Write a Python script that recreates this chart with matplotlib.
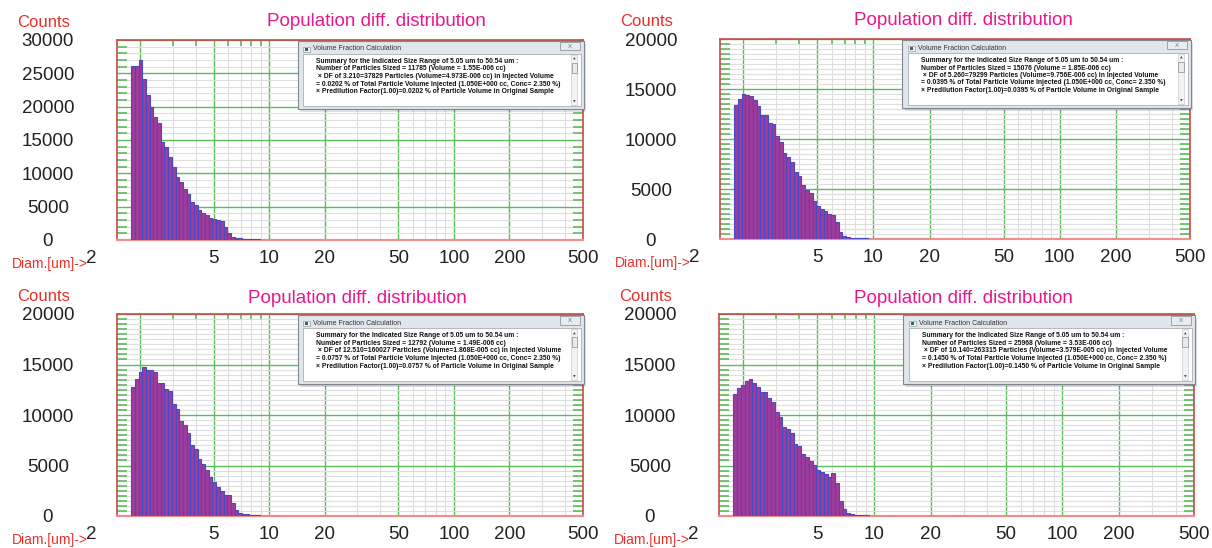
"""
Population diff. distribution, four particle sizer screenshots
"""
import numpy as np
import matplotlib
matplotlib.use("Agg")
from matplotlib import pyplot as plt
from matplotlib.patches import Rectangle
from matplotlib.ticker import FixedLocator, MultipleLocator, NullFormatter
from matplotlib.transforms import ScaledTranslation

plt.rcParams['font.family'] = ['Liberation Sans', 'DejaVu Sans']

# sizer channels: log spaced, 50 per decade, first channel edge in um
first_channel = 1.79
channels_per_decade = 50

counts_tl = [26100, 26100, 27000, 24100, 21750, 20000, 18500, 17500, 14750, 14000,
             12500, 11000, 9500, 8750, 7600, 6900, 5750, 5250, 4500, 4100,
             3750, 3250, 3100, 3000, 2900, 2000, 1000, 500, 350, 250,
             200, 160, 130, 110, 90, 70, 55, 45, 38, 32,
             27, 23, 20, 17, 15, 13, 11, 10, 9, 8, 7, 6]
counts_tr = [13430, 14000, 14500, 14400, 14270, 13900, 13270, 12430, 12400, 11600,
             11500, 10270, 9670, 8570, 8170, 7670, 6730, 6270, 5430, 4930,
             4600, 3770, 3330, 3000, 2770, 2500, 2430, 1730, 730, 330,
             200, 150, 120, 90, 70, 55, 45, 38, 30, 25,
             20, 17, 15, 12, 10, 9, 8, 7, 6, 5, 4, 3]
counts_bl = [12800, 13530, 14290, 14720, 14450, 14450, 14220, 13130, 13130, 12600,
             12340, 11050, 10630, 9400, 8980, 8180, 7060, 6600, 5680, 5150,
             4550, 3890, 3370, 2900, 2510, 2080, 2080, 1250, 600, 330,
             200, 150, 110, 80, 60, 45, 35, 28, 22, 18,
             15, 12, 10, 8, 7, 6, 5, 4, 3, 3, 2, 2]
counts_br = [12080, 12640, 12970, 13370, 13560, 13200, 12740, 12310, 12310, 11650,
             11320, 10330, 9830, 8840, 8610, 8180, 7130, 6930, 6140, 5870,
             5450, 5050, 4550, 4320, 4160, 3890, 4220, 3230, 1520, 660,
             300, 180, 120, 90, 70, 55, 45, 35, 30, 25,
             20, 17, 15, 13, 11, 10, 9, 8, 7, 6,
             5, 5, 4, 4, 3, 3, 3, 2, 2, 2, 2, 2, 2, 2]

y_max = [30000, 20000, 20000, 20000]
y_minor_step = [1000, 500, 500, 500]

x_ticks = [2, 5, 10, 20, 50, 100, 200, 500]
x_tick_labels = ['2', '5', '10', '20', '50', '100', '200', '500']
x_minor = [3, 4, 6, 7, 8, 9, 30, 40, 60, 70, 80, 90, 300, 400]

title = "Population diff. distribution"
dialog_title = "Volume Fraction Calculation"
summary = "Summary for the Indicated Size Range of 5.05 um to 50.54 um :"

lines_tl = [summary,
            "Number of Particles Sized = 11785 (Volume = 1.55E-006 cc)",
            " \u00d7 DF of 3.210=37829 Particles (Volume=4.973E-006 cc) in Injected Volume",
            "= 0.0202 % of Total Particle Volume Injected (1.050E+000 cc, Conc= 2.350 %)",
            "\u00d7 Predilution Factor(1.00)=0.0202 % of Particle Volume in Original Sample"]
lines_tr = [summary,
            "Number of Particles Sized = 15076 (Volume = 1.85E-006 cc)",
            " \u00d7 DF of 5.260=79299 Particles (Volume=9.756E-006 cc) in Injected Volume",
            "= 0.0395 % of Total Particle Volume Injected (1.050E+000 cc, Conc= 2.350 %)",
            "\u00d7 Predilution Factor(1.00)=0.0395 % of Particle Volume in Original Sample"]
lines_bl = [summary,
            "Number of Particles Sized = 12792 (Volume = 1.49E-006 cc)",
            " \u00d7 DF of 12.510=160027 Particles (Volume=1.868E-005 cc) in Injected Volume",
            "= 0.0757 % of Total Particle Volume Injected (1.050E+000 cc, Conc= 2.350 %)",
            "\u00d7 Predilution Factor(1.00)=0.0757 % of Particle Volume in Original Sample"]
lines_br = [summary,
            "Number of Particles Sized = 25968 (Volume = 3.53E-006 cc)",
            " \u00d7 DF of 10.140=263315 Particles (Volume=3.579E-005 cc) in Injected Volume",
            "= 0.1450 % of Total Particle Volume Injected (1.050E+000 cc, Conc= 2.350 %)",
            "\u00d7 Predilution Factor(1.00)=0.1450 % of Particle Volume in Original Sample"]

W, H = 1212, 548
# left, top, width, height in pixels
panel_px = [(117, 40, 466, 200), (720, 39, 470, 200),
            (117, 314, 466, 202), (719, 314, 475, 202)]
title_x = [0.556, 0.519, 0.515, 0.514]
title_dy = [14, 14, 11, 11]

green = '#5cbc5c'
grey = '#dedede'
frame_red = '#c44c4c'
magenta = '#e8188c'
red = '#e8302a'
bar_fill = '#a03c9c'
bar_edge = '#4a4ac0'


def draw_dialog(ax, lines):
    kw = dict(transform=ax.transAxes, clip_on=False, zorder=10)
    ax.add_patch(Rectangle((0.393, 0.64), 0.614, 0.34, fc='#000000', alpha=0.12,
                           ec='none', **kw))
    ax.add_patch(Rectangle((0.388, 0.655), 0.614, 0.34, fc='#e1e6ec',
                           ec='#7f8791', lw=0.8, **kw))
    ax.add_patch(Rectangle((0.399, 0.67), 0.597, 0.26, fc='white',
                           ec='#a9b0b8', lw=0.6, **kw))
    # scroll bar
    ax.add_patch(Rectangle((0.974, 0.675), 0.014, 0.25, fc='#f3f3f3',
                           ec='#cccccc', lw=0.5, **kw))
    ax.add_patch(Rectangle((0.9755, 0.835), 0.011, 0.05, fc='#ebebeb',
                           ec='#8a8a8a', lw=0.5, **kw))
    ax.text(0.981, 0.905, '\u25b2', fontsize=2.5, ha='center', va='center',
            family='DejaVu Sans', color='#444444', **kw)
    ax.text(0.981, 0.69, '\u25bc', fontsize=2.5, ha='center', va='center',
            family='DejaVu Sans', color='#444444', **kw)
    # close button and icon
    ax.add_patch(Rectangle((0.951, 0.948), 0.043, 0.042, fc='#e9ecef',
                           ec='#8e98a3', lw=0.6, **kw))
    ax.text(0.9725, 0.969, 'X', fontsize=4.5, ha='center', va='center',
            color='#707070', **kw)
    ax.add_patch(Rectangle((0.400, 0.94), 0.014, 0.025, fc='#f5f5f5',
                           ec='#888888', lw=0.4, **kw))
    ax.add_patch(Rectangle((0.404, 0.946), 0.006, 0.013, fc='#2a6a6a',
                           ec='none', **kw))
    ax.text(0.421, 0.955, dialog_title, fontsize=5, va='center', color='#333333', **kw)
    for i, s in enumerate(lines):
        ax.text(0.427, 0.8925 - i * 0.0375, s, fontsize=4.85, va='center',
                fontweight='bold', color='#111111', **kw)


fig = plt.figure(figsize=(W / 100, H / 100), dpi=100)

all_counts = [counts_tl, counts_tr, counts_bl, counts_br]
all_lines = [lines_tl, lines_tr, lines_bl, lines_br]

for k in range(4):
    l, t, w, h = panel_px[k]
    ax = fig.add_axes([l / W, 1 - (t + h) / H, w / W, h / H])
    counts = all_counts[k]
    edges = first_channel * 10 ** (np.arange(len(counts) + 1) / channels_per_decade)
    ax.bar(edges[:-1], counts, width=np.diff(edges), align='edge', color=bar_fill,
           edgecolor=bar_edge, linewidth=0.8, zorder=3)

    ax.set_xscale('log')
    ax.set_xlim(1.5, 500)
    ax.set_ylim(0, y_max[k])

    ax.xaxis.set_major_locator(FixedLocator(x_ticks))
    ax.set_xticklabels(x_tick_labels)
    ax.xaxis.set_minor_locator(FixedLocator(x_minor))
    ax.xaxis.set_minor_formatter(NullFormatter())
    ax.yaxis.set_major_locator(MultipleLocator(5000))
    ax.yaxis.set_minor_locator(MultipleLocator(y_minor_step[k]))

    ax.grid(True, which='major', color=green, lw=1.0, zorder=1)
    ax.grid(True, which='minor', color=grey, lw=0.8, zorder=0)
    ax.set_axisbelow(True)

    ax.tick_params(axis='x', which='major', length=0, pad=7, labelsize=13.5,
                   labelcolor='#222222')
    ax.tick_params(axis='x', which='minor', top=True, bottom=False, direction='in',
                   length=4, width=1.2, color=green)
    ax.tick_params(axis='y', which='major', length=0, pad=49.7, labelsize=13.5,
                   labelcolor='#222222')
    ax.tick_params(axis='y', which='minor', left=True, right=True, direction='in',
                   length=7, width=1.2, color=green)
    for lbl in ax.get_yticklabels():
        lbl.set_horizontalalignment('center')
    lbl2 = ax.get_xticklabels()[0]
    lbl2.set_transform(lbl2.get_transform() +
                       ScaledTranslation(-0.49, 0, fig.dpi_scale_trans))

    for side in ['left', 'top', 'right']:
        ax.spines[side].set_color(frame_red)
        ax.spines[side].set_linewidth(1.2)
    ax.spines['bottom'].set_color('#ec9090')
    ax.spines['bottom'].set_linewidth(1.6)

    ax.annotate(title, xy=(title_x[k], 1), xycoords='axes fraction',
                xytext=(0, title_dy[k]), textcoords='offset pixels',
                ha='center', va='baseline', fontsize=13.5, color=magenta)
    ax.annotate('Counts', xy=(0, 1), xycoords='axes fraction',
                xytext=(-100, 13), textcoords='offset pixels',
                ha='left', va='baseline', fontsize=12, color=red)
    ax.annotate('Diam.[um]->', xy=(0, 0), xycoords='axes fraction',
                xytext=(-105, -28), textcoords='offset pixels',
                ha='left', va='baseline', fontsize=10, color=red,
                annotation_clip=False)

    draw_dialog(ax, all_lines[k])

fig.savefig('out.png', dpi=100, facecolor='white')
